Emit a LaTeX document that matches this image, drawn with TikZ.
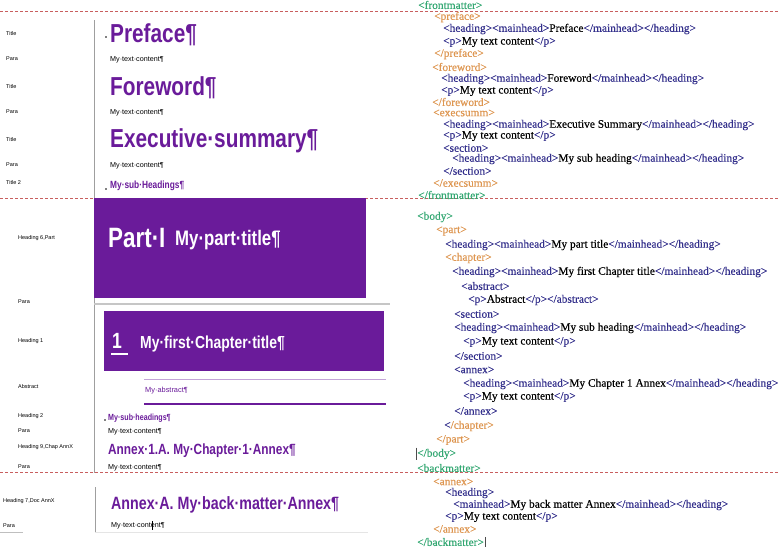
\documentclass[tikz,border=0pt]{standalone}
\usepackage{fontspec}
\usepackage{graphicx}
\setmainfont{Liberation Sans}
\newfontfamily\xmlfont[FakeBold=0.3]{Liberation Serif}
\newfontfamily\narrowfont[FakeStretch=0.8]{Liberation Sans}
\definecolor{wpurple}{RGB}{106,27,154}
\definecolor{xgreen}{RGB}{52,168,115}
\definecolor{xorange}{RGB}{222,150,80}
\definecolor{xblue}{RGB}{52,48,140}
\definecolor{dashred}{RGB}{200,95,95}
\newcommand\XG[1]{\textcolor{xgreen}{#1}}
\newcommand\XO[1]{\textcolor{xorange}{#1}}
\newcommand\XB[1]{\textcolor{xblue}{#1}}
\tikzset{
  lbl/.style={anchor=west,inner sep=0,font=\fontsize{5.5}{6}\selectfont},
  xml/.style={anchor=west,inner sep=0,font=\xmlfont\fontsize{11.4}{13}\selectfont},
  wtext/.style={anchor=west,inner sep=0,font=\fontsize{7.2}{8}\selectfont},
  whead/.style={anchor=west,inner sep=0,text=wpurple,font=\narrowfont\bfseries\fontsize{#1}{#1}\selectfont},
  whwhite/.style={anchor=west,inner sep=0,text=white,font=\narrowfont\bfseries\fontsize{#1}{#1}\selectfont},
  sepline/.style={dashred,line width=0.7pt,dash pattern=on 3pt off 2pt},
  rule/.style={gray!75,line width=0.8pt},
  tinydot/.style={fill=black,draw=none}
}
\begin{document}
\begin{tikzpicture}[x=1pt,y=-1pt]
\useasboundingbox (0,0) rectangle (780,550);
\fill[white] (0,0) rectangle (780,550);

% separators
\draw[sepline] (0,11) -- (780,11);
\draw[sepline] (0,198) -- (780,198);
\draw[sepline] (0,472) -- (780,472);

% left vertical rules
\draw[rule] (94,20) -- (94,473);
\draw[rule] (95,487) -- (95,532);
\draw[gray!20,line width=0.5pt] (95,532) -- (368,532);
\draw[gray!50,line width=0.5pt] (0,532) -- (23,532);

% style labels
\node[lbl] (l1) at (6,34) {Title};
\node[lbl] (l2) at (6,59) {Para};
\node[lbl] (l3) at (6,87) {Title};
\node[lbl] (l4) at (6,112) {Para};
\node[lbl] (l5) at (6,140) {Title};
\node[lbl] (l6) at (6,165) {Para};
\node[lbl] (l7) at (6,183) {Title 2};
\node[lbl] (l8) at (18,238) {Heading 6,Part};
\node[lbl] (l9) at (18,302) {Para};
\node[lbl] (l10) at (18,341) {Heading 1};
\node[lbl] (l11) at (18,387) {Abstract};
\node[lbl] (l12) at (18,416) {Heading 2};
\node[lbl] (l13) at (18,431) {Para};
\node[lbl] (l14) at (18,447) {Heading 9,Chap AnnX};
\node[lbl] (l15) at (18,467) {Para};
\node[lbl] (l16) at (3,501) {Heading 7,Doc AnnX};
\node[lbl] (l17) at (3,526) {Para};

% front matter page
\fill[tinydot] (106,37) circle (0.8);
\node[whead=26] (pref) at (110,35) {Preface¶};
\node[wtext] (t1) at (110,60) {My·text·content¶};
\node[whead=26] (forew) at (110,88) {Foreword¶};
\node[wtext] (t2) at (110,113) {My·text·content¶};
\node[whead=26] (exec) at (110,141) {Executive·summary¶};
\node[wtext] (t3) at (110,166) {My·text·content¶};
\fill[tinydot] (106,189) circle (0.8);
\node[whead=10.4] (sub1) at (110,186) {My·sub·Headings¶};

% part box
\fill[wpurple] (94,198) rectangle (366,298);
\node[whwhite=28] (partno) at (108,238) {Part·I};
\node[whwhite=21] (parttitle) at (175,240) {My·part·title¶};
\draw[gray!45,line width=1.3pt] (94,304) -- (390,304);

% chapter box
\fill[wpurple] (104,311) rectangle (384,371);
\node[whwhite=22] (chno) at (112,341) {1};
\draw[white,line width=1.2pt] (111,354) -- (128,354);
\node[whwhite=17.4] (chtitle) at (140,344) {My·first·Chapter·title¶};

% abstract
\draw[wpurple!40,line width=0.8pt] (144,379) -- (386,379);
\node[wtext,text=wpurple,font=\fontsize{7.4}{8}\selectfont] (abs) at (145,391) {My·abstract¶};
\draw[wpurple,line width=1.8pt] (144,404) -- (386,404);

\fill[tinydot] (105,420) circle (0.8);
\node[whead=8.9] (sub2) at (108,418) {My·sub·headings¶};
\node[wtext] (t4) at (108,432) {My·text·content¶};
\node[whead=14.8] (annex1) at (108,451) {Annex·1.A. My·Chapter·1·Annex¶};
\node[wtext] (t5) at (108,468) {My·text·content¶};

% back matter
\node[whead=17.8] (annexA) at (111,505) {Annex·A. My·back·matter·Annex¶};
\node[wtext] (t6) at (111,526) {My·text·content¶};
\draw[black,line width=0.5pt] (152,521) -- (152,530);

% XML: front matter
\node[xml] (x1) at (418,5) {\XG{<frontmatter>}};
\node[xml] (x2) at (434,17) {\XO{<preface>}};
\node[xml] (x3) at (443,29) {\XB{<heading><mainhead>}Preface\XB{</mainhead></heading>}};
\node[xml] (x4) at (443,42) {\XB{<p>}My text content\XB{</p>}};
\node[xml] (x5) at (434,54) {\XO{</preface>}};
\node[xml] (x6) at (432,67) {\XO{<foreword>}};
\node[xml] (x7) at (441,79) {\XB{<heading><mainhead>}Foreword\XB{</mainhead></heading>}};
\node[xml] (x8) at (441,91) {\XB{<p>}My text content\XB{</p>}};
\node[xml] (x9) at (432,102) {\XO{</foreword>}};
\node[xml] (x10) at (433,113) {\XO{<execsumm>}};
\node[xml] (x11) at (443,125) {\XB{<heading><mainhead>}Executive Summary\XB{</mainhead></heading>}};
\node[xml] (x12) at (443,136) {\XB{<p>}My text content\XB{</p>}};
\node[xml] (x13) at (443,148) {\XB{<section>}};
\node[xml] (x14) at (452,159) {\XB{<heading><mainhead>}My sub heading\XB{</mainhead></heading>}};
\node[xml] (x15) at (443,171) {\XB{</section>}};
\node[xml] (x16) at (433,183) {\XO{</execsumm>}};
\node[xml] (x17) at (418,195) {\XG{</frontmatter>}};

% XML: body
\node[xml] (x18) at (417,217) {\XG{<body>}};
\node[xml] (x19) at (436,231) {\XO{<part>}};
\node[xml] (x20) at (445,245) {\XB{<heading><mainhead>}My part title\XB{</mainhead></heading>}};
\node[xml] (x21) at (445,258) {\XO{<chapter>}};
\node[xml] (x22) at (452,272) {\XB{<heading><mainhead>}My first Chapter title\XB{</mainhead></heading>}};
\node[xml] (x23) at (461,286) {\XB{<abstract>}};
\node[xml] (x24) at (468,300) {\XB{<p>}Abstract\XB{</p></abstract>}};
\node[xml] (x25) at (454,314) {\XB{<section>}};
\node[xml] (x26) at (454,328) {\XB{<heading><mainhead>}My sub heading\XB{</mainhead></heading>}};
\node[xml] (x27) at (463,342) {\XB{<p>}My text content\XB{</p>}};
\node[xml] (x28) at (454,356) {\XB{</section>}};
\node[xml] (x29) at (454,370) {\XB{<annex>}};
\node[xml] (x30) at (463,384) {\XB{<heading><mainhead>}My Chapter 1 Annex\XB{</mainhead></heading>}};
\node[xml] (x31) at (463,397) {\XB{<p>}My text content\XB{</p>}};
\node[xml] (x32) at (454,411) {\XB{</annex>}};
\node[xml] (x33) at (444,426) {\XB{<}\XO{/chapter>}};
\node[xml] (x34) at (436,440) {\XO{</part>}};
\node[xml] (x35) at (417,454) {\XG{</body>}};
\draw[black!70,line width=0.5pt] ([xshift=-0.3pt,yshift=1pt]x35.north west) -- ([xshift=-0.3pt,yshift=-1pt]x35.south west);
\node[xml] (x36) at (417,468) {\XG{<backmatter>}};

% XML: back matter
\node[xml] (x37) at (433,482) {\XO{<annex>}};
\node[xml] (x38) at (445,493) {\XB{<heading>}};
\node[xml] (x39) at (453,505) {\XB{<mainhead>}My back matter Annex\XB{</mainhead></heading>}};
\node[xml] (x40) at (445,517) {\XB{<p>}My text content\XB{</p>}};
\node[xml] (x41) at (433,529) {\XO{</annex>}};
\node[xml] (x42) at (417,542) {\XG{</backmatter>}};
\draw[black!70,line width=0.5pt] ([xshift=1pt,yshift=1pt]x42.north east) -- ([xshift=1pt,yshift=-1pt]x42.south east);
\end{tikzpicture}
\end{document}
